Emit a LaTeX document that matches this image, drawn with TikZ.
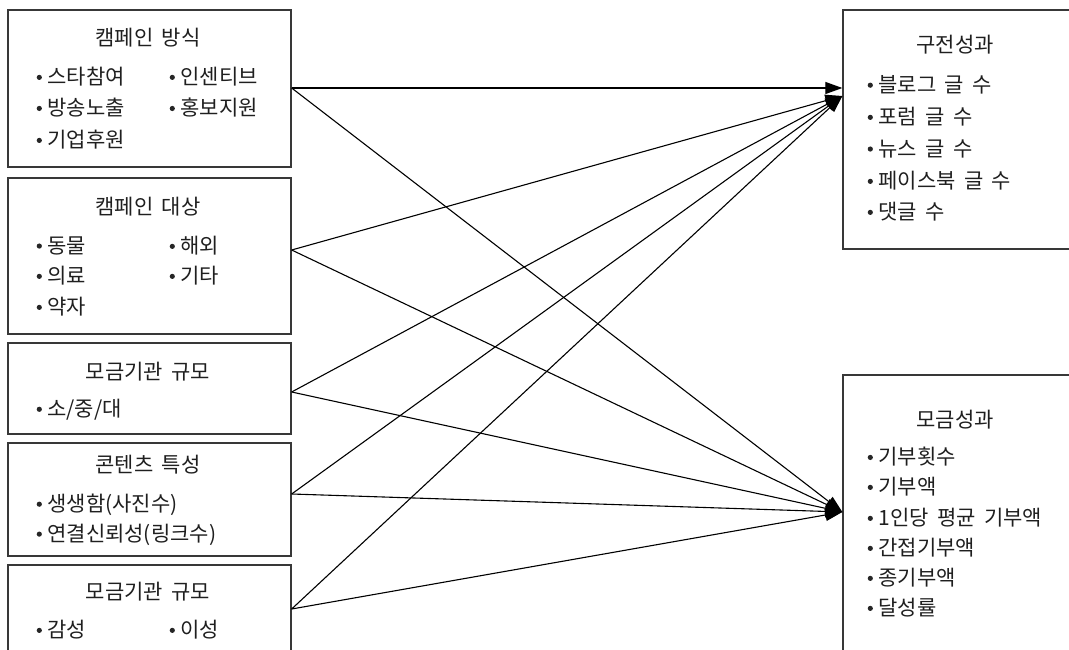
\documentclass[tikz,border=0pt]{standalone}
\usepackage{fontspec}
\setmainfont{Noto Sans CJK KR}
\usetikzlibrary{arrows.meta}
\newcommand{\bul}{\tikz[baseline=0pt]{\fill[black!85] (2.7pt,7.5pt) circle (2.6pt);}\hspace{5.5pt}}
\newcommand{\kfont}{\fontsize{21}{23}\selectfont}
\newcommand{\wsp}{\hspace{8.5pt}}
\begin{document}
\begin{tikzpicture}[x=1pt,y=-1pt,
  box/.style={draw=black!78, line width=1.3pt, inner sep=0pt, fill=none},
  ttl/.style={font=\kfont, text=black!88, inner sep=0pt},
  itm/.style={font=\kfont, text=black!88, inner sep=0pt, anchor=west},
  conn/.style={line width=1.1pt, black, -{Triangle[length=17pt,width=12pt]}}]
\useasboundingbox (0,0) rectangle (1069,650);
\clip (0,0) rectangle (1069,650);
% left boxes
\node[box, minimum width=283pt, minimum height=157pt] (b1) at (149.5,88.5) {};
\node[box, minimum width=283pt, minimum height=156pt] (b2) at (149.5,256) {};
\node[box, minimum width=283pt, minimum height=91pt] (b3) at (149.5,388.5) {};
\node[box, minimum width=283pt, minimum height=113pt] (b4) at (149.5,499.5) {};
\node[box, minimum width=283pt, minimum height=105pt] (b5) at (149.5,617.5) {};
% right boxes
\node[box, minimum width=237pt, minimum height=239pt] (r1) at (961.5,129.5) {};
\node[box, minimum width=237pt, minimum height=295pt] (r2) at (961.5,522.5) {};
% box 1
\node[ttl] (b1t) at (148,38) {캠페인\wsp 방식};
\node[itm] (b1a) at (36.5,77) {\bul 스타참여};
\node[itm] (b1b) at (36.5,108) {\bul 방송노출};
\node[itm] (b1c) at (36.5,140) {\bul 기업후원};
\node[itm] (b1d) at (169.5,77) {\bul 인센티브};
\node[itm] (b1e) at (169.5,108) {\bul 홍보지원};
% box 2
\node[ttl] (b2t) at (148,207) {캠페인\wsp 대상};
\node[itm] (b2a) at (36.5,246) {\bul 동물};
\node[itm] (b2b) at (36.5,276) {\bul 의료};
\node[itm] (b2c) at (36.5,307) {\bul 약자};
\node[itm] (b2d) at (169.5,246) {\bul 해외};
\node[itm] (b2e) at (169.5,276) {\bul 기타};
% box 3
\node[ttl] (b3t) at (148,372) {모금기관\wsp 규모};
\node[itm] (b3a) at (36.5,410) {\bul 소/중/대};
% box 4
\node[ttl] (b4t) at (148,465) {콘텐츠\wsp 특성};
\node[itm] (b4a) at (36.5,505) {\bul 생생함(사진수)};
\node[itm] (b4b) at (36.5,535) {\bul 연결신뢰성(링크수)};
% box 5
\node[ttl] (b5t) at (148,592) {모금기관\wsp 규모};
\node[itm] (b5a) at (36.5,630) {\bul 감성};
\node[itm] (b5b) at (169.5,630) {\bul 이성};
% right box 1
\node[ttl] (r1t) at (955,45) {구전성과};
\node[itm] (r1a) at (867.5,85) {\bul 블로그\wsp 글\wsp 수};
\node[itm] (r1b) at (867.5,117) {\bul 포럼\wsp 글\wsp 수};
\node[itm] (r1c) at (867.5,149) {\bul 뉴스\wsp 글\wsp 수};
\node[itm] (r1d) at (867.5,181) {\bul 페이스북\wsp 글\wsp 수};
\node[itm] (r1e) at (867.5,212) {\bul 댓글\wsp 수};
% right box 2
\node[ttl] (r2t) at (955,420) {모금성과};
\node[itm] (r2a) at (867.5,457) {\bul 기부횟수};
\node[itm] (r2b) at (867.5,487) {\bul 기부액};
\node[itm] (r2c) at (867.5,518) {\bul 1인당\wsp 평균\wsp 기부액};
\node[itm] (r2d) at (867.5,548) {\bul 간접기부액};
\node[itm] (r2e) at (867.5,578) {\bul 종기부액};
\node[itm] (r2f) at (867.5,608) {\bul 달성률};
% connector points
\coordinate (o1) at (b1.east |- 0,88);
\coordinate (o2) at (b2.east |- 0,250);
\coordinate (o3) at (b3.east |- 0,392);
\coordinate (o4) at (b4.east |- 0,494);
\coordinate (o5) at (b5.east |- 0,609);
\coordinate (t1a) at (r1.west |- 0,88);
\coordinate (t1b) at (r1.west |- 0,96);
\coordinate (t2) at (r2.west |- 0,512);
% connectors
\draw[conn] (o1) -- (t1a);
\draw[conn] (o1) -- (t2);
\draw[conn] (o2) -- (t1b);
\draw[conn] (o2) -- (t2);
\draw[conn] (o3) -- (t1b);
\draw[conn] (o3) -- (t2);
\draw[conn] (o4) -- (t1b);
\draw[conn] (o4) -- (t2);
\draw[conn] (o5) -- (t1b);
\draw[conn] (o5) -- (t2);
\end{tikzpicture}
\end{document}
